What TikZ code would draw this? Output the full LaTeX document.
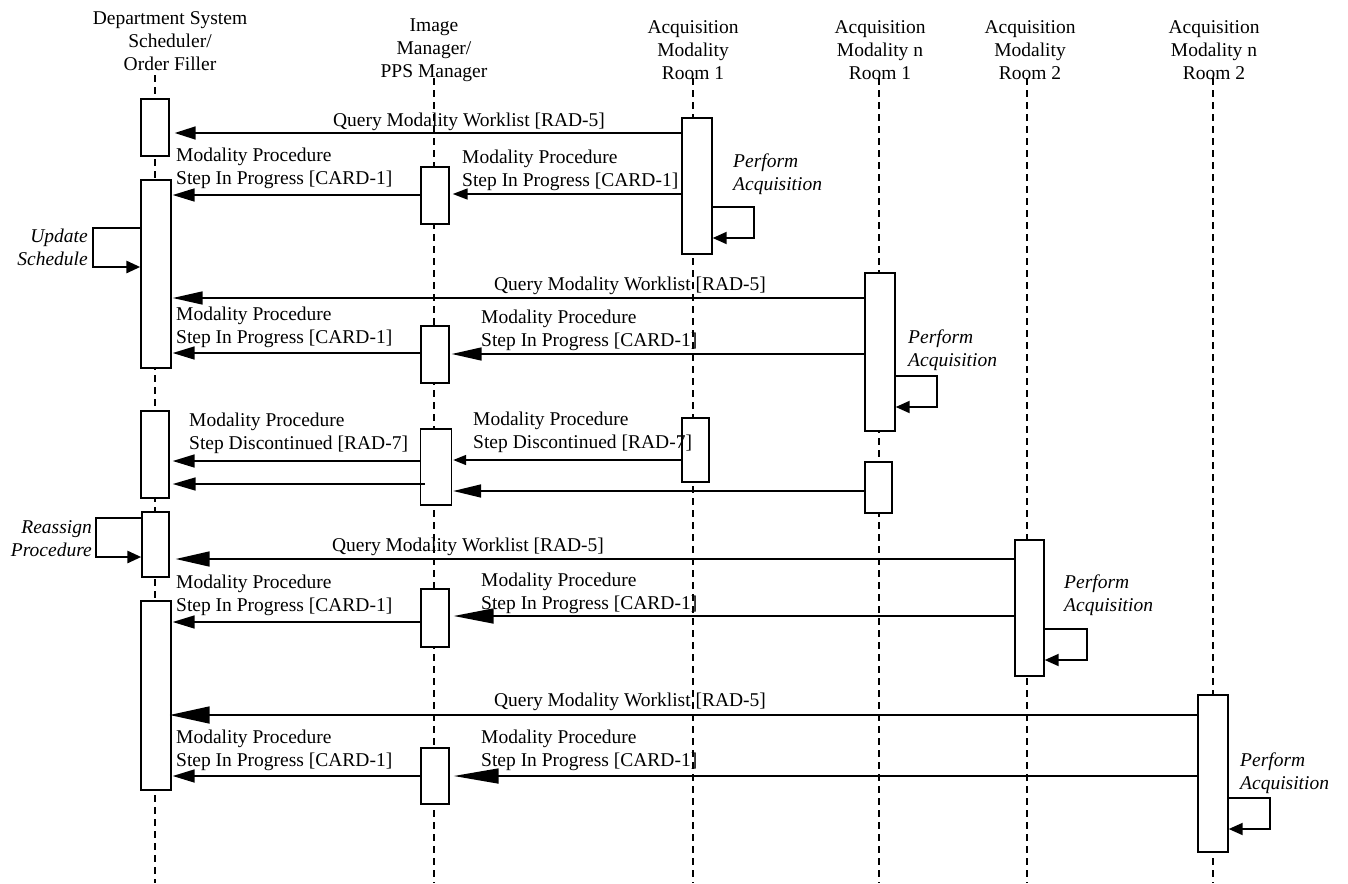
\documentclass[tikz,border=0pt]{standalone}
\usepackage{fontspec}
\setmainfont{Liberation Serif}
\usetikzlibrary{arrows.meta}
\begin{document}
\begin{tikzpicture}[x=1pt,y=-1pt,
  font=\fontsize{19.5}{23}\selectfont,
  hdr/.style={align=center,inner sep=0pt},
  lbl/.style={align=left,inner sep=0pt,anchor=west},
  ital/.style={inner sep=0pt,font=\fontsize{19.5}{23}\selectfont\itshape},
  lifeline/.style={line width=2.3pt,dash pattern=on 7pt off 5pt},
  act/.style={draw,fill=white,line width=1.4pt,inner sep=0pt},
  msg/.style={line width=1.7pt},
  selfloop/.style={line width=2pt},
  thickloop/.style={line width=2.8pt},
  arrowhd/.style 2 args={-{Triangle[length=#1,width=#2]}}
]
\useasboundingbox (0,0) rectangle (1348,883);

% headers
\node[hdr] (hD) at (170,41) {Department System\\Scheduler/\\Order Filler};
\node[hdr] (hI) at (434,50) {Image\\Manager/\\PPS Manager};
\node[hdr] (hA1) at (693,50) {Acquisition\\Modality\\Room 1};
\node[hdr] (hN1) at (880,50) {Acquisition\\Modality n\\Room 1};
\node[hdr] (hA2) at (1030,50) {Acquisition\\Modality\\Room 2};
\node[hdr] (hN2) at (1214,50) {Acquisition\\Modality n\\Room 2};

% lifelines
\coordinate (lDt) at (155,75);  \coordinate (lDb) at (155,883);
\coordinate (lIt) at (434,78);  \coordinate (lIb) at (434,883);
\coordinate (lA1t) at (693,78); \coordinate (lA1b) at (693,883);
\coordinate (lN1t) at (879,78); \coordinate (lN1b) at (879,883);
\coordinate (lA2t) at (1027,78); \coordinate (lA2b) at (1027,883);
\coordinate (lN2t) at (1213,78); \coordinate (lN2b) at (1213,883);
\foreach \l in {D,I,A1,N1,A2,N2} \draw[lifeline] (l\l t) -- (l\l b);

% activation boxes
\node[act,minimum width=28pt,minimum height=57pt] (d1) at (155,127.5) {};
\node[act,minimum width=30pt,minimum height=188pt] (d2) at (156,274) {};
\node[act,minimum width=28pt,minimum height=87pt] (d3) at (155,454.5) {};
\node[act,minimum width=27pt,minimum height=65pt] (d4) at (155.5,544.5) {};
\node[act,minimum width=30pt,minimum height=189pt] (d5) at (156,695.5) {};

\node[act,minimum width=28pt,minimum height=57pt] (i1) at (435,195.5) {};
\node[act,minimum width=28pt,minimum height=57pt] (i2) at (435,354.5) {};
\node[act,minimum width=31pt,minimum height=76pt] (i3) at (436,467) {};
\node[act,minimum width=28pt,minimum height=58pt] (i4) at (435,618) {};
\node[act,minimum width=28pt,minimum height=56pt] (i5) at (435,776) {};

\node[act,minimum width=30pt,minimum height=136pt] (a1) at (697,186) {};
\node[act,minimum width=27pt,minimum height=64pt] (a2) at (695.5,450) {};

\node[act,minimum width=30pt,minimum height=158pt] (n1) at (880,352) {};
\node[act,minimum width=27pt,minimum height=51pt] (n2) at (878.5,487.5) {};

\node[act,minimum width=29pt,minimum height=136pt] (b1) at (1029.5,608) {};
\node[act,minimum width=30pt,minimum height=157pt] (m1) at (1213,773.5) {};

% block 1
\node[hdr] (q1) at (469,122) {Query Modality Worklist [RAD-5]};
\draw[msg,arrowhd={21pt}{13pt},shorten >=5pt] (a1.west |- 0,133) -- (d1.east |- 0,133);
\node[lbl] (l2) at (462,170.5) {Modality Procedure\\Step In Progress [CARD-1]};
\draw[msg,arrowhd={15pt}{11pt},shorten >=3pt] (a1.west |- 0,194) -- (i1.east |- 0,194);
\node[lbl] (l3) at (176,168.5) {Modality Procedure\\Step In Progress [CARD-1]};
\draw[msg,arrowhd={22pt}{13pt},shorten >=1pt] (i1.west |- 0,195) -- (d2.east |- 0,195);
\node[ital,align=left,anchor=west] (p1) at (733,174) {Perform\\Acquisition};
\draw[selfloop,arrowhd={14pt}{12pt}] (a1.east |- 0,207) -- (754,207) -- (754,238) -- (a1.east |- 0,238);
\node[ital,align=right,anchor=east] (upd) at (88,247.5) {Update\\Schedule};
\draw[thickloop,arrowhd={14pt}{12pt}] (d2.west |- 0,228) -- (93,228) -- (93,267) -- (d2.west |- 0,267);

% block 2
\node[hdr] (q2) at (630,286) {Query Modality Worklist [RAD-5]};
\draw[msg,arrowhd={30pt}{13pt},shorten >=1pt] (n1.west |- 0,298) -- (d2.east |- 0,298);
\node[lbl] (l5) at (481,330.5) {Modality Procedure\\Step In Progress [CARD-1]};
\draw[msg,arrowhd={30pt}{13pt},shorten >=2pt] (n1.west |- 0,354) -- (i2.east |- 0,354);
\node[lbl] (l6) at (176,327.5) {Modality Procedure\\Step In Progress [CARD-1]};
\draw[msg,arrowhd={22pt}{13pt},shorten >=1pt] (i2.west |- 0,353) -- (d2.east |- 0,353);
\node[ital,align=left,anchor=west] (p2) at (908,350) {Perform\\Acquisition};
\draw[selfloop,arrowhd={14pt}{12pt}] (n1.east |- 0,376) -- (937,376) -- (937,407) -- (n1.east |- 0,407);

% discontinued
\node[lbl] (l7) at (473,432) {Modality Procedure\\Step Discontinued [RAD-7]};
\draw[msg,arrowhd={13pt}{10pt},shorten >=1pt] (a2.west |- 0,460) -- (i3.east |- 0,460);
\node[lbl] (l8) at (189,433) {Modality Procedure\\Step Discontinued [RAD-7]};
\draw[msg,arrowhd={22pt}{13pt},shorten >=3pt] (i3.west |- 0,461) -- (d3.east |- 0,461);
\draw[msg,arrowhd={28pt}{13pt},shorten >=1pt] (n2.west |- 0,491) -- (i3.east |- 0,491);
\coordinate (i3in) at (425,484);
\draw[msg,arrowhd={23pt}{13pt},shorten >=3pt] (i3in) -- (d3.east |- i3in);

% reassign
\node[ital,align=right,anchor=east] (rea) at (92,538.5) {Reassign\\Procedure};
\draw[thickloop,arrowhd={14pt}{12pt}] (d4.west |- 0,518) -- (96,518) -- (96,557) -- (d4.west |- 0,557);

% block 3
\node[hdr] (q3) at (468,547) {Query Modality Worklist [RAD-5]};
\draw[msg,arrowhd={34pt}{15pt},shorten >=6pt] (b1.west |- 0,559) -- (d4.east |- 0,559);
\node[lbl] (l12) at (481,593.5) {Modality Procedure\\Step In Progress [CARD-1]};
\draw[msg,arrowhd={40pt}{15pt},shorten >=4pt] (b1.west |- 0,616) -- (i4.east |- 0,616);
\node[lbl] (l13) at (176,595.5) {Modality Procedure\\Step In Progress [CARD-1]};
\draw[msg,arrowhd={22pt}{13pt},shorten >=1pt] (i4.west |- 0,622) -- (d5.east |- 0,622);
\node[ital,align=left,anchor=west] (p3) at (1064,595) {Perform\\Acquisition};
\draw[selfloop,arrowhd={14pt}{12pt}] (b1.east |- 0,629) -- (1087,629) -- (1087,660) -- (b1.east |- 0,660);

% block 4
\node[hdr] (q4) at (630,702) {Query Modality Worklist [RAD-5]};
\draw[msg,arrowhd={40pt}{17pt},shorten >=-2pt] (m1.west |- 0,715) -- (d5.east |- 0,715);
\node[lbl] (l15) at (481,750.5) {Modality Procedure\\Step In Progress [CARD-1]};
\draw[msg,arrowhd={45pt}{15pt},shorten >=4pt] (m1.west |- 0,776) -- (i5.east |- 0,776);
\node[lbl] (l16) at (176,750.5) {Modality Procedure\\Step In Progress [CARD-1]};
\draw[msg,arrowhd={22pt}{13pt},shorten >=1pt] (i5.west |- 0,776) -- (d5.east |- 0,776);
\node[ital,align=left,anchor=west] (p4) at (1240,773) {Perform\\Acquisition};
\draw[selfloop,arrowhd={14pt}{12pt}] (m1.east |- 0,798) -- (1270,798) -- (1270,829) -- (m1.east |- 0,829);
\end{tikzpicture}
\end{document}
